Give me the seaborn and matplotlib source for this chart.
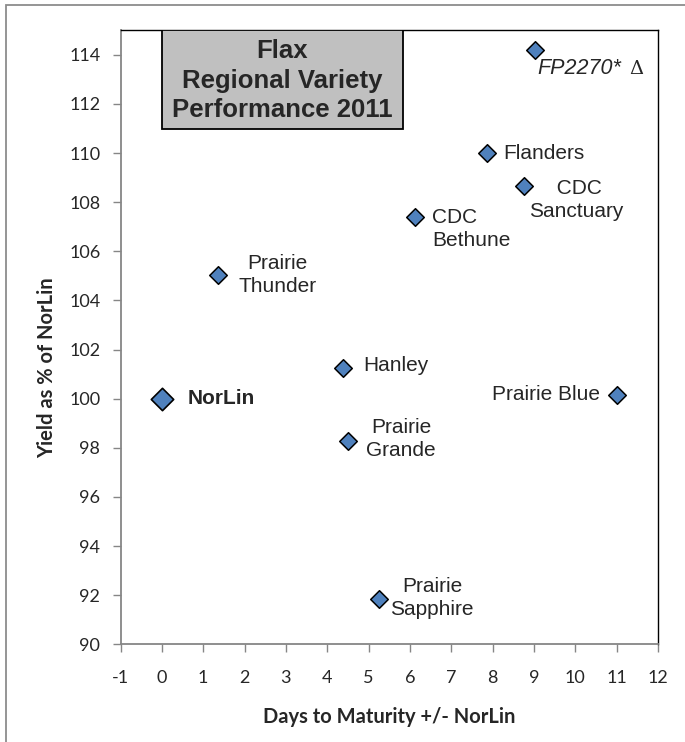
import matplotlib
matplotlib.use("Agg")
import matplotlib.pyplot as plt
from matplotlib.patches import Rectangle
import seaborn as sns
import pandas as pd

# ---- data ----
varieties = ["NorLin", "Prairie Thunder", "Hanley", "Prairie Grande", "Prairie Sapphire",
             "CDC Bethune", "Flanders", "CDC Sanctuary", "FP2270", "Prairie Blue"]
days_to_maturity = [0.0, 1.35, 4.38, 4.5, 5.25, 6.12, 7.86, 8.76, 9.02, 11.0]
yield_pct = [100.0, 105.05, 101.25, 98.28, 91.84, 107.4, 110.0, 108.66, 114.2, 100.15]
x_ticks = list(range(-1, 13))
y_ticks = list(range(90, 115, 2))

df = pd.DataFrame({"variety": varieties, "days": days_to_maturity, "yield": yield_pct})

# ---- figure ----
sns.set_style("white")
plt.rcParams["font.family"] = ["Liberation Sans", "DejaVu Sans"]
W, H = 685, 742
fig = plt.figure(figsize=(W / 100, H / 100), dpi=100)
L, R, T, B = 120.5, 658, 30.3, 644.3
ax = fig.add_axes([L / W, 1 - B / H, (R - L) / W, (B - T) / H])

# outer chart border (only top/left visible)
fig.patches.append(Rectangle((6 / W, -0.2), 2, 1 - 5 / H + 0.2, transform=fig.transFigure,
                             fill=False, edgecolor="#8c8c8c", linewidth=1.3))

blue = "#4F81BD"
others = df[df["variety"] != "NorLin"]
base = df[df["variety"] == "NorLin"]
sns.scatterplot(data=others, x="days", y="yield", marker="D", s=80, color=blue,
                edgecolor="black", linewidth=1.1, ax=ax, zorder=3)
sns.scatterplot(data=base, x="days", y="yield", marker="D", s=130, color=blue,
                edgecolor="black", linewidth=1.2, ax=ax, zorder=3)

ax.set_xlim(-1, 12)
ax.set_ylim(90, 115)
ax.set_xticks(x_ticks)
ax.set_yticks(y_ticks)
ax.set_xticklabels([str(v) for v in x_ticks], fontfamily="Lato", fontsize=13)
ax.set_yticklabels([str(v) for v in y_ticks], fontfamily="Lato", fontsize=13)
ax.tick_params(axis="both", direction="out", length=5.5, width=1, color="#868686",
               left=True, bottom=True)
ax.tick_params(axis="y", pad=9)
ax.tick_params(axis="x", pad=13)
ax.set_xlabel("")
ax.set_ylabel("")
for s in ["left", "bottom"]:
    ax.spines[s].set_color("#868686")
    ax.spines[s].set_linewidth(1.3)
for s in ["top", "right"]:
    ax.spines[s].set_color("black")
    ax.spines[s].set_linewidth(1.0)
ax.grid(False)

fig.text(389 / W, 1 - 717 / H, "Days to Maturity +/- NorLin", ha="center", va="center",
         fontfamily="Lato", fontweight="bold", fontsize=14.5)
fig.text(47 / W, 1 - 368 / H, "Yield as % of NorLin", ha="center", va="center",
         rotation=90, fontfamily="Lato", fontweight="bold", fontsize=14.5)

# ---- point labels (offsets in pixels) ----
label_style = {
    "NorLin": dict(text="NorLin", off=(26, 0), ha="left", weight="bold"),
    "Prairie Thunder": dict(text="Prairie\nThunder", off=(60, 0), ha="center"),
    "Hanley": dict(text="Hanley", off=(20, 2), ha="left"),
    "Prairie Grande": dict(text="Prairie\nGrande", off=(53, 2), ha="center"),
    "Prairie Sapphire": dict(text="Prairie\nSapphire", off=(53, 1), ha="center"),
    "CDC Bethune": dict(text="CDC\nBethune", off=(17, -12), ha="left"),
    "Flanders": dict(text="Flanders", off=(16, 0), ha="left"),
    "CDC Sanctuary": dict(text=" CDC\nSanctuary", off=(52, -14), ha="center"),
    "Prairie Blue": dict(text="Prairie Blue", off=(-17, 1), ha="right"),
}
for name, xv, yv in zip(varieties, days_to_maturity, yield_pct):
    if name in label_style:
        st = label_style[name]
        ax.annotate(st["text"], (xv, yv), xytext=st["off"], textcoords="offset pixels",
                    ha=st["ha"], va="center", fontsize=15, linespacing=1.25,
                    fontweight=st.get("weight", "normal"), multialignment=st["ha"])
    elif name == "FP2270":
        ax.annotate("FP2270*", (xv, yv), xytext=(3, -19), textcoords="offset pixels",
                    ha="left", va="center", fontsize=15.5, fontstyle="italic")
        ax.annotate("\u0394", (xv, yv), xytext=(94, -19), textcoords="offset pixels",
                    ha="left", va="center", fontsize=14, family=["DejaVu Serif"])

# ---- title box ----
bx0, bx1, by0, by1 = 162, 403, 30.3, 129
ax.add_patch(Rectangle(((bx0 - L) / (R - L), 1 - (by1 - T) / (B - T)), (bx1 - bx0) / (R - L),
                       (by1 - by0) / (B - T), transform=ax.transAxes, facecolor="#c0c0c0",
                       edgecolor="black", linewidth=1.3, zorder=4))
ax.text(((bx0 + bx1) / 2 - L) / (R - L), 1 - ((by0 + by1) / 2 + 1 - T) / (B - T),
        "Flax\nRegional Variety\nPerformance 2011", transform=ax.transAxes, ha="center",
        va="center", fontsize=18.5, fontweight="bold", linespacing=1.3, zorder=5)

fig.savefig("out.png", dpi=100)
